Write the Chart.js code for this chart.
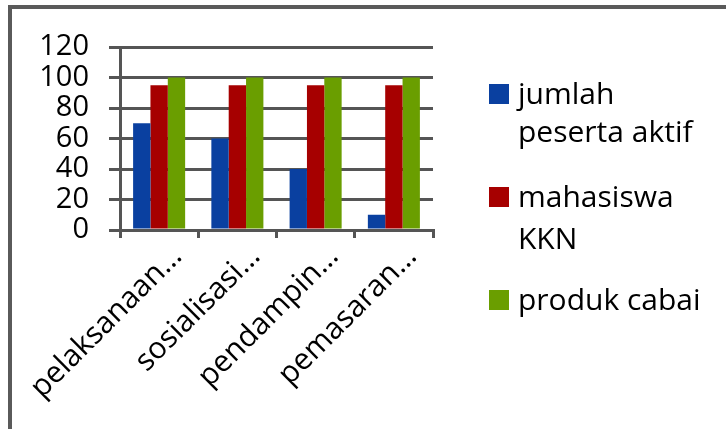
<!DOCTYPE html>
<html>
<head>
<meta charset="utf-8">
<script src="https://cdn.jsdelivr.net/npm/chart.js@4"></script>
<style>
  html, body { margin: 0; padding: 0; background: #fff; }
  #wrap { position: relative; width: 726px; height: 429px; overflow: hidden; background: #fff; }
  #frame { position: absolute; left: 8px; top: 5px; width: 730px; height: 420px;
           border-top: 4px solid #5a5a5a; border-left: 4px solid #5a5a5a; border-bottom: 2px solid #b0b0b0; box-sizing: content-box; }
  #c { position: absolute; left: 0; top: 0; }
  .lg { position: absolute; left: 518px; font-family: "Open Sans", sans-serif; font-size: 30px; line-height: 30px; color: #000; white-space: nowrap; }
  .sw { position: absolute; left: 489px; width: 20px; height: 20px; }
</style>
</head>
<body>
<div id="wrap">
  <div id="frame"></div>
  <canvas id="c" width="726" height="429"></canvas>
  <div id="legend"></div>
</div>
<script>
const categories = ['pelaksanaan…', 'sosialisasi…', 'pendampin…', 'pemasaran…'];
const seriesNames = [['jumlah', 'peserta aktif'], ['mahasiswa', 'KKN'], ['produk cabai']];
const jumlahPesertaAktif = [70, 60, 40, 10];
const mahasiswaKKN = [95, 95, 95, 95];
const produkCabai = [100, 100, 100, 100];
const yMin = 0, yMax = 120, yStep = 20;
const colors = ['#0A40A0', '#A60000', '#6A9E00'];

const FONT = '"Open Sans", sans-serif';
const GRID = '#555555';

const datasets = [jumlahPesertaAktif, mahasiswaKKN, produkCabai].map((d, i) => ({
  label: seriesNames[i].join(' '),
  data: d,
  backgroundColor: colors[i],
  borderWidth: 0,
  categoryPercentage: 0.665,
  barPercentage: 1.0
}));

new Chart(document.getElementById('c'), {
  type: 'bar',
  data: { labels: categories, datasets },
  options: {
    responsive: false,
    animation: false,
    devicePixelRatio: 1,
    layout: { padding: { left: 0, top: 47, right: 293, bottom: 0 } },
    plugins: { legend: { display: false }, tooltip: { enabled: false } },
    scales: {
      y: {
        min: yMin, max: yMax,
        ticks: { stepSize: yStep, autoSkip: false, color: '#000', font: { family: FONT, size: 29 }, padding: 20 },
        grid: { color: GRID, lineWidth: 3, tickLength: 11 },
        border: { color: GRID, width: 3 },
        afterFit: s => { s.width = 120; }
      },
      x: {
        offset: true,
        ticks: { color: '#000', font: { family: FONT, size: 30 }, maxRotation: 45, minRotation: 45, autoSkip: false, padding: 1, labelOffset: 18 },
        grid: { color: GRID, lineWidth: 3, tickLength: 8, drawOnChartArea: false, offset: true },
        border: { color: GRID, width: 3 },
        afterFit: s => { s.height = 429 - 47 - 183; }
      }
    }
  }
});

// HTML legend (multi-line labels), each line placed by its baseline
const legend = document.getElementById('legend');
const baselines = [[105, 143], [208, 250], [311]];
const ASC = 27;
seriesNames.forEach((lines, i) => {
  lines.forEach((txt, j) => {
    const t = document.createElement('div');
    t.className = 'lg';
    t.style.top = (baselines[i][j] - ASC) + 'px';
    t.textContent = txt;
    legend.appendChild(t);
  });
  const sw = document.createElement('div');
  sw.className = 'sw';
  sw.style.top = (baselines[i][0] - 21) + 'px';
  sw.style.background = colors[i];
  legend.appendChild(sw);
});
</script>
</body>
</html>
